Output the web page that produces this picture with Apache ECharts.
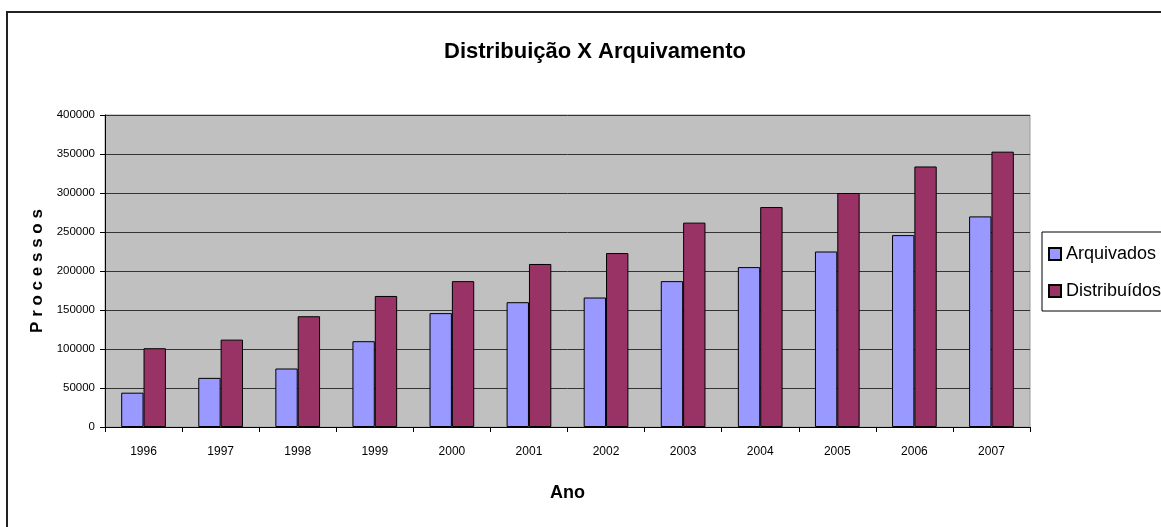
<!DOCTYPE html>
<html>
<head>
<meta charset="utf-8">
<script src="https://cdn.jsdelivr.net/npm/echarts@6/dist/echarts.min.js"></script>
<style>
html,body{margin:0;padding:0;background:#fff;}
#chart{width:1161px;height:527px;}
</style>
</head>
<body>
<div id="chart"></div>
<script>
var years = ['1996','1997','1998','1999','2000','2001','2002','2003','2004','2005','2006','2007'];
var arquivados = [44000, 63000, 75000, 110000, 146000, 160000, 166000, 187000, 205000, 225000, 246000, 270000];
var distribuidos = [101000, 112000, 142000, 168000, 187000, 209000, 223000, 262000, 282000, 300000, 334000, 353000];
var seriesNames = ['Arquivados', 'Distribuídos'];
var titleText = 'Distribuição X Arquivamento';
var xName = 'Ano';
var yName = 'P r o c e s s o s';

var FONT = 'Arial, "Liberation Sans", sans-serif';

var chart = echarts.init(document.getElementById('chart'));
chart.setOption({
  animation: false,
  backgroundColor: '#ffffff',
  graphic: [{
    type: 'rect',
    shape: {x: 7, y: 12, width: 1300, height: 700},
    style: {fill: 'none', stroke: '#222', lineWidth: 2},
    z: 100
  }],
  title: {
    text: titleText,
    left: 590,
    top: 36,
    textAlign: 'center',
    textStyle: {fontFamily: FONT, fontSize: 22, fontWeight: 'bold', color: '#000'}
  },
  legend: {
    orient: 'vertical',
    left: 1042,
    top: 232,
    padding: [13, 8, 11, 6],
    itemWidth: 12,
    itemHeight: 12,
    itemGap: 19,
    icon: 'rect',
    borderColor: '#000',
    borderWidth: 1,
    backgroundColor: '#fff',
    textStyle: {fontFamily: FONT, fontSize: 18, color: '#000'},
    data: seriesNames
  },
  grid: {
    left: 105, right: 131, top: 115, bottom: 100,
    show: true,
    backgroundColor: '#c0c0c0',
    borderColor: '#9a9a9a',
    borderWidth: 1,
    containLabel: false
  },
  xAxis: {
    type: 'category',
    data: years,
    name: xName,
    nameLocation: 'middle',
    nameGap: 57,
    nameTextStyle: {fontFamily: FONT, fontSize: 18, fontWeight: 'bold', color: '#000'},
    axisLine: {lineStyle: {color: '#000', width: 1}},
    axisTick: {show: true, length: 5, lineStyle: {color: '#000'}},
    axisLabel: {fontFamily: FONT, fontSize: 12, color: '#000', margin: 19},
    splitLine: {show: false}
  },
  yAxis: {
    type: 'value',
    min: 0,
    max: 400000,
    interval: 50000,
    name: yName,
    nameLocation: 'middle',
    nameGap: 43,
    nameRotate: 90,
    nameTextStyle: {fontFamily: FONT, fontSize: 17, fontWeight: 'bold', color: '#000'},
    axisLine: {show: true, lineStyle: {color: '#000', width: 1}},
    axisTick: {show: true, length: 5, lineStyle: {color: '#000'}},
    axisLabel: {fontFamily: FONT, fontSize: 11.5, color: '#000', margin: 10,
      formatter: function (v) { return String(v); }},
    splitLine: {show: true, lineStyle: {color: '#333', width: 1}}
  },
  series: [{
    name: seriesNames[0],
    type: 'bar',
    data: arquivados,
    barGap: '0%',
    barCategoryGap: '42%',
    itemStyle: {color: '#9999ff', borderColor: '#000', borderWidth: 1}
  }, {
    name: seriesNames[1],
    type: 'bar',
    data: distribuidos,
    barGap: '0%',
    barCategoryGap: '42%',
    itemStyle: {color: '#993366', borderColor: '#000', borderWidth: 1}
  }]
});
</script>
</body>
</html>
